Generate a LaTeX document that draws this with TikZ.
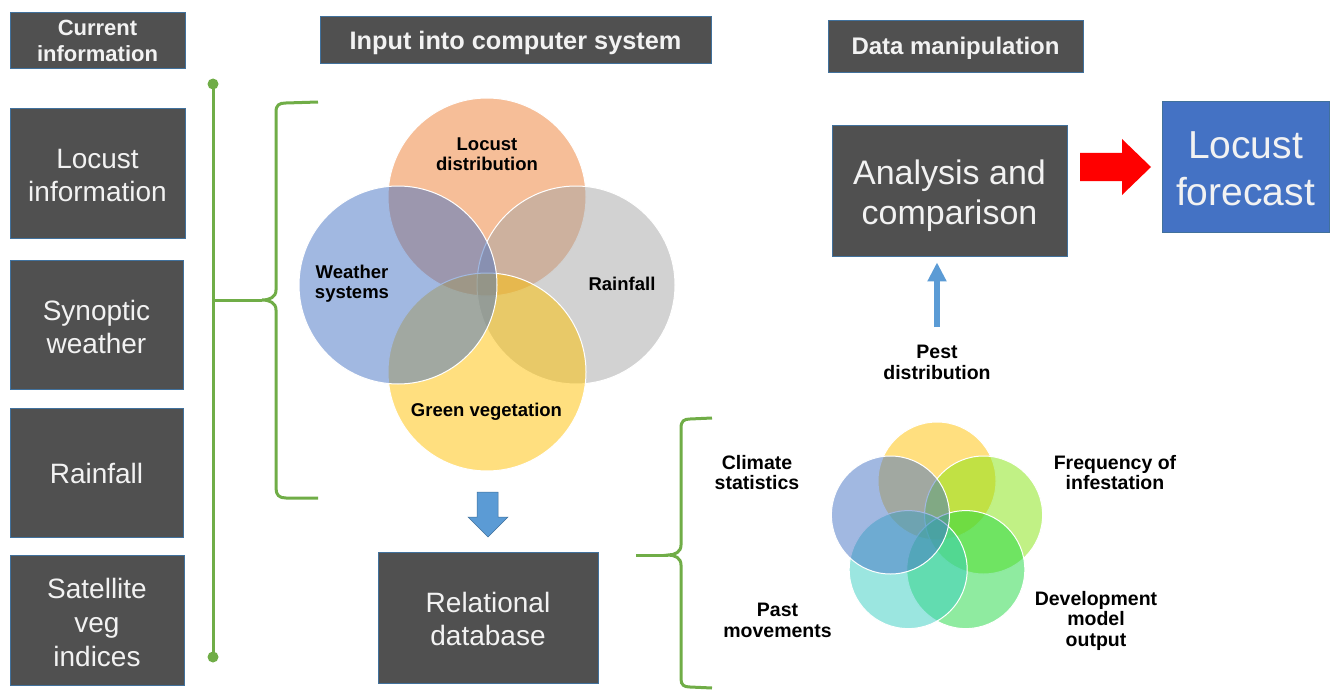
\documentclass[tikz,border=0pt]{standalone}
\usepackage{fontspec}
\setmainfont{Liberation Sans}
\usetikzlibrary{arrows.meta}
\definecolor{boxgray}{RGB}{80,80,80}
\definecolor{boxedge}{RGB}{65,113,156}
\definecolor{bracegreen}{RGB}{112,173,71}
\definecolor{offblue}{RGB}{68,114,196}
\definecolor{offorange}{RGB}{237,125,49}
\definecolor{offgray}{RGB}{165,165,165}
\definecolor{offyellow}{RGB}{255,192,0}
\definecolor{vlime}{RGB}{131,227,11}
\definecolor{vgreen}{RGB}{31,215,65}
\definecolor{vteal}{RGB}{55,205,193}
\definecolor{arrowblue}{RGB}{91,155,213}
\definecolor{fcblue}{RGB}{68,114,196}
\newcommand{\setfs}[2]{\fontsize{#1}{#2}\selectfont}
\tikzset{
  box/.style={draw=boxedge, line width=0.8pt, fill=boxgray, inner sep=0pt},
  boxtext/.style={text=white!95!black, align=center, inner sep=0pt},
  brace/.style={draw=bracegreen, line width=3pt},
  vcirc/.style={circle, draw=white, line width=1pt, fill opacity=0.5, inner sep=0pt},
  vlabel/.style={align=center, font=\setfs{18.5}{20}\bfseries, text=black, inner sep=0pt},
  vlabelb/.style={align=center, font=\setfs{19.5}{20.5}\bfseries, text=black, inner sep=0pt},
}
% name, centre, width, height, font, text shift, text
\newcommand{\tbox}[7]{%
  \node[box, minimum width=#3, minimum height=#4] (#1) at (#2) {};
  \node[boxtext, font=#5] (#1-t) at ([yshift=#6]#1.center) {#7};}
\begin{document}
\begin{tikzpicture}[x=1pt,y=-1pt]
\useasboundingbox (0,0) rectangle (1333,690);
% left column
\tbox{cur}{97.5,40}{175pt}{56pt}{\setfs{22}{26}\bfseries}{-1pt}{Current\\information}
\tbox{loc}{97.5,173}{175pt}{130pt}{\setfs{28}{33}}{-3pt}{Locust\\information}
\tbox{syn}{96.5,324.5}{173pt}{129pt}{\setfs{28}{33}}{-2pt}{Synoptic\\weather}
\tbox{rain}{96.5,472.5}{173pt}{129pt}{\setfs{28}{33}}{-1pt}{Rainfall}
\tbox{sat}{97,620}{174pt}{130pt}{\setfs{28}{34}}{-2pt}{Satellite\\veg\\indices}
% headers
\tbox{hin}{515.5,39.5}{391pt}{47pt}{\setfs{25.3}{28}\bfseries}{-3pt}{Input into computer system}
\tbox{hdm}{955.5,46}{255pt}{52pt}{\setfs{24}{28}\bfseries}{-2pt}{Data manipulation}
% green line and brace 1
\coordinate (dtop) at (213,84);
\coordinate (dbot) at (213,657);
\coordinate (b1tip) at (262,300);
\draw[brace] (dtop) -- (dbot);
\fill[bracegreen] (dtop) circle (5.5);
\fill[bracegreen] (dbot) circle (5.5);
\draw[brace] (213,300) -- (b1tip);
\draw[brace] (318,102) -- (286,103) .. controls (279,103) and (276,105) .. (276,112) -- (276,290) .. controls (276,297) and (270,300) .. (b1tip) .. controls (270,300) and (276,303) .. (276,310) -- (276,488) .. controls (276,495) and (279,498) .. (286,498) -- (318,498);
% venn 1
\node[vcirc, minimum size=198pt, fill=offorange] (vL) at (487,197) {};
\node[vcirc, minimum size=198pt, fill=offgray] (vR) at (576,285) {};
\node[vcirc, minimum size=198pt, fill=offyellow] (vG) at (487,372) {};
\node[vcirc, minimum size=198pt, fill=offblue] (vW) at (398,285) {};
\node[vlabel] (tL) at (487,154.5) {Locust\\distribution};
\node[vlabel] (tW) at (352,283.5) {Weather\\systems};
\node[vlabel] (tR) at (622,284) {Rainfall};
\node[vlabel] (tG) at (486.5,412) {Green vegetation};
% down arrow
\fill[arrowblue, draw=boxedge, line width=0.5pt] (477,492) -- (498,492) -- (498,517) -- (508,517) -- (488,537) -- (468,517) -- (477,517) -- cycle;
\tbox{rel}{488,617.5}{220pt}{131pt}{\setfs{28}{33}}{-1pt}{Relational\\database}
% brace 2
\coordinate (b2tip) at (668,555);
\draw[brace] (636,555) -- (b2tip);
\draw[brace] (712,418) -- (690,419) .. controls (684,419) and (681,421) .. (681,428) -- (681,545) .. controls (681,552) and (675,555) .. (b2tip) .. controls (675,555) and (681,558) .. (681,565) -- (681,679) .. controls (681,685) and (684,687) .. (690,687) -- (712,688);
% venn 2
\node[vcirc, minimum size=118pt, fill=offyellow] (cY) at (937,481) {};
\node[vcirc, minimum size=118pt, fill=vlime] (cF) at (983.6,515) {};
\node[vcirc, minimum size=118pt, fill=vgreen] (cD) at (965.8,569.6) {};
\node[vcirc, minimum size=118pt, fill=vteal] (cP) at (908.2,569.6) {};
\node[vcirc, minimum size=118pt, fill=offblue] (cC) at (890.4,515) {};
\node[vlabelb] (tC) at (757,472.5) {Climate\\statistics};
\node[vlabelb] (tF) at (1115,472.5) {Frequency of\\infestation};
\node[vlabelb] (tP) at (777.5,620.5) {Past\\movements};
\node[vlabelb] (tD) at (1096,620.5) {Development\\model\\output};
% analysis and forecast
\tbox{ana}{949.5,190.5}{235pt}{131pt}{\setfs{34}{40}}{-5pt}{Analysis and\\comparison}
\node[box, fill=fcblue, minimum width=167pt, minimum height=131pt] (fc) at (1245.5,166.5) {};
\node[boxtext, font=\setfs{39}{47}] (fc-t) at ([yshift=-2pt]fc.center) {Locust\\forecast};
\fill[red] (1080,153) -- (1122,153) -- (1122,139) -- (1151,167) -- (1122,195) -- (1122,181) -- (1080,181) -- cycle;
\node[vlabelb] (pest) at (937,362.5) {Pest\\distribution};
\coordinate (upbase) at (937,327);
\draw[arrowblue, line width=6pt, -{Triangle[width=18pt,length=19pt]}, shorten >=6pt] (upbase) -- (upbase |- ana.south);
\end{tikzpicture}
\end{document}
